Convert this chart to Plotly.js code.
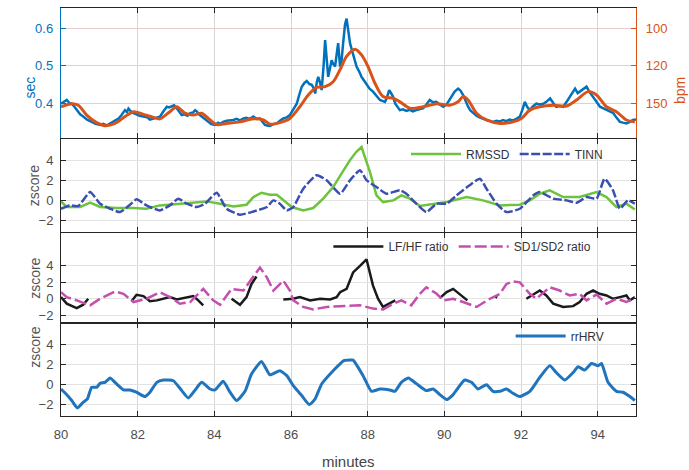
<!DOCTYPE html>
<html>
<head>
<meta charset="utf-8">
<script src="https://cdn.plot.ly/plotly-3.0.1.min.js"></script>
<style>html,body{margin:0;padding:0;background:#fff;}#chart{width:689px;height:470px;}</style>
</head>
<body>
<div id="chart"></div>
<script>
// ---------- DATA ----------
// Panel 1: RR interval (sec) and smoothed heart rate (plotted in sec units; right axis labelled in bpm)
const rrMin = [80.00,80.08,80.15,80.22,80.28,80.35,80.41,80.50,80.58,80.68,80.80,80.90,81.02,81.10,81.20,81.28,81.38,81.45,81.50,81.58,81.67,81.72,81.76,81.82,81.89,81.97,82.05,82.15,82.25,82.32,82.41,82.50,82.58,82.66,82.72,82.76,82.82,82.89,82.95,83.02,83.08,83.15,83.22,83.30,83.37,83.45,83.50,83.54,83.60,83.67,83.75,83.84,83.92,84.02,84.10,84.15,84.23,84.32,84.41,84.50,84.58,84.67,84.76,84.84,84.92,85.02,85.10,85.19,85.26,85.32,85.40,85.45,85.54,85.63,85.71,85.80,85.89,85.97,86.06,86.15,86.22,86.28,86.35,86.41,86.48,86.54,86.60,86.63,86.67,86.71,86.76,86.80,86.85,86.89,86.93,86.97,87.02,87.06,87.10,87.15,87.19,87.23,87.28,87.32,87.36,87.41,87.45,87.50,87.54,87.58,87.62,87.67,87.71,87.78,87.84,87.90,87.97,88.05,88.14,88.23,88.32,88.40,88.45,88.50,88.56,88.60,88.66,88.72,88.78,88.84,88.92,89.01,89.10,89.18,89.27,89.36,89.45,89.53,89.62,89.70,89.79,89.88,89.97,90.06,90.14,90.22,90.27,90.36,90.42,90.49,90.56,90.62,90.68,90.75,90.84,90.93,91.01,91.10,91.19,91.27,91.36,91.45,91.53,91.62,91.70,91.79,91.88,91.97,92.04,92.10,92.16,92.23,92.30,92.40,92.49,92.58,92.66,92.72,92.76,92.84,92.92,93.01,93.10,93.19,93.28,93.36,93.41,93.48,93.54,93.62,93.71,93.78,93.88,93.97,94.06,94.14,94.23,94.32,94.41,94.50,94.58,94.66,94.75,94.84,94.92,95.00];
const rrSec = [0.400,0.405,0.410,0.402,0.400,0.392,0.383,0.372,0.366,0.358,0.352,0.347,0.344,0.347,0.343,0.348,0.352,0.358,0.361,0.370,0.383,0.378,0.387,0.380,0.375,0.372,0.368,0.366,0.364,0.358,0.361,0.363,0.366,0.378,0.388,0.392,0.390,0.394,0.396,0.388,0.378,0.370,0.372,0.368,0.375,0.377,0.383,0.380,0.372,0.366,0.358,0.352,0.346,0.344,0.350,0.347,0.352,0.355,0.356,0.357,0.360,0.356,0.361,0.363,0.360,0.366,0.360,0.361,0.352,0.344,0.342,0.341,0.346,0.348,0.355,0.361,0.364,0.370,0.385,0.400,0.425,0.445,0.455,0.460,0.452,0.450,0.440,0.427,0.455,0.471,0.455,0.436,0.500,0.568,0.520,0.471,0.495,0.515,0.505,0.498,0.530,0.560,0.498,0.515,0.560,0.610,0.625,0.586,0.560,0.545,0.529,0.515,0.498,0.485,0.471,0.462,0.450,0.440,0.432,0.420,0.410,0.407,0.405,0.415,0.436,0.430,0.419,0.400,0.390,0.383,0.385,0.381,0.384,0.380,0.383,0.386,0.388,0.398,0.410,0.404,0.405,0.398,0.392,0.398,0.410,0.425,0.432,0.440,0.435,0.423,0.405,0.392,0.382,0.375,0.368,0.363,0.361,0.357,0.354,0.352,0.355,0.353,0.357,0.354,0.358,0.356,0.360,0.366,0.385,0.405,0.392,0.383,0.392,0.400,0.398,0.400,0.405,0.412,0.414,0.402,0.392,0.394,0.392,0.405,0.419,0.432,0.440,0.428,0.432,0.438,0.445,0.432,0.419,0.405,0.392,0.388,0.383,0.380,0.375,0.362,0.352,0.350,0.348,0.352,0.357,0.358];
const hrMin = [80.00,80.28,80.45,80.67,80.93,81.15,81.41,81.67,81.89,82.15,82.41,82.58,82.84,83.02,83.23,83.45,83.67,83.89,84.06,84.32,84.67,85.02,85.28,85.45,85.71,85.97,86.23,86.45,86.67,86.89,87.10,87.28,87.45,87.67,87.84,88.01,88.19,88.40,88.67,88.84,89.10,89.45,89.80,90.14,90.36,90.49,90.62,90.84,91.10,91.45,91.79,92.01,92.23,92.49,92.84,93.19,93.45,93.75,93.97,94.23,94.49,94.75,94.97];
const hrSec = [0.392,0.400,0.396,0.370,0.350,0.342,0.348,0.366,0.379,0.372,0.364,0.360,0.379,0.392,0.375,0.370,0.375,0.357,0.345,0.348,0.352,0.360,0.357,0.346,0.350,0.361,0.392,0.423,0.443,0.445,0.458,0.490,0.525,0.544,0.529,0.498,0.454,0.419,0.414,0.405,0.388,0.392,0.400,0.396,0.405,0.419,0.410,0.375,0.357,0.348,0.352,0.361,0.383,0.392,0.396,0.394,0.410,0.432,0.423,0.392,0.379,0.357,0.352];
const secTicks = [0.4, 0.5, 0.6];
const bpmTicks = [150, 120, 100];

// Panel 2: RMSSD and TINN (zscore)
const rmssdMin = [80.00,80.15,80.50,80.76,81.02,81.45,81.89,82.23,82.58,83.02,83.45,83.80,84.15,84.50,84.84,85.02,85.23,85.45,85.63,85.80,86.02,86.32,86.58,86.84,87.10,87.37,87.54,87.70,87.84,88.06,88.23,88.40,88.67,88.88,89.10,89.36,89.71,90.06,90.58,91.01,91.45,91.97,92.23,92.49,92.75,93.10,93.53,93.97,94.23,94.49,94.75,94.97];
const rmssdZ = [-0.1,-0.66,-0.66,-0.23,-0.66,-0.76,-0.76,-0.83,-0.5,-0.33,-0.17,-0.1,-0.33,-0.6,-0.43,0.33,0.76,0.56,0.56,0.0,-0.66,-1.0,-0.76,0.17,1.32,2.98,4.0,4.8,5.3,2.8,0.5,-0.17,0.0,0.5,0.17,-0.56,-0.33,-0.17,0.33,0.0,-0.5,-0.43,0.0,0.66,1.0,0.33,0.33,0.83,0.33,-0.66,-0.33,-0.9];
const tinnMin = [80.00,80.23,80.45,80.76,81.02,81.28,81.54,81.80,81.97,82.23,82.58,82.84,83.06,83.28,83.54,83.76,84.06,84.32,84.67,85.02,85.37,85.54,85.71,85.89,86.06,86.32,86.67,86.93,87.28,87.54,87.80,87.97,88.23,88.49,88.84,89.01,89.27,89.53,89.80,90.06,90.32,90.66,90.93,91.10,91.36,91.62,91.97,92.32,92.49,92.84,93.19,93.45,93.71,93.97,94.18,94.40,94.58,94.79,94.97];
const tinnZ = [-0.83,-0.5,-0.56,0.83,-0.33,-0.83,-1.16,-0.43,0.1,-0.5,-1.0,-0.5,0.17,-0.33,-0.66,-0.33,0.76,-0.83,-1.42,-1.1,-0.66,0.0,-0.33,-1.0,-0.66,1.16,2.5,2.0,0.66,2.0,3.0,2.0,1.32,0.66,1.0,0.66,-0.33,-1.16,-0.33,-0.33,0.5,1.5,2.15,1.16,-0.33,-1.16,-0.83,0.5,0.83,0.17,0.0,-0.23,0.33,0.17,2.15,1.0,-0.83,0.0,-0.33];

// Panel 3: LF/HF ratio (with gaps) and SD1/SD2 ratio (zscore)
const lfhfMin = [80.00,80.15,80.41,80.58,80.71,81.30,81.84,81.97,82.15,82.32,82.50,82.67,82.84,83.02,83.28,83.45,83.58,83.71,84.10,84.45,84.67,84.84,84.97,85.10,85.50,85.80,86.06,86.23,86.50,86.76,87.02,87.19,87.28,87.45,87.62,87.80,87.97,88.14,88.27,88.40,88.58,88.72,89.30,89.88,90.06,90.23,90.40,90.60,91.00,91.33,91.38,91.80,92.14,92.36,92.49,92.66,92.84,93.10,93.36,93.53,93.71,93.88,94.05,94.23,94.40,94.58,94.75,94.84,94.97];
const lfhfZ = [0.2,-0.6,-1.13,-0.73,0.0,null,-0.3,0.48,0.32,-0.3,-0.2,0.0,0.2,-0.08,0.2,0.32,-0.2,-0.8,null,0.0,-0.73,0.2,1.8,2.7,null,-0.08,0.0,0.2,-0.2,0.0,-0.08,0.2,0.8,1.2,3.2,4.0,4.8,1.6,0.0,-1.0,-0.6,-0.2,null,0.08,0.8,1.2,0.6,-0.2,null,0.25,0.15,null,0.0,0.6,1.0,0.4,-0.6,-1.0,-0.9,-0.4,0.6,1.0,0.6,0.4,0.0,0.2,0.4,-0.2,0.2];
const sdMin = [80.00,80.15,80.41,80.76,81.02,81.41,81.63,81.89,82.23,82.58,82.84,83.10,83.37,83.71,83.97,84.15,84.45,84.76,84.97,85.19,85.37,85.54,85.80,85.97,86.06,86.32,86.58,86.93,87.28,87.80,88.14,88.40,88.67,88.88,89.14,89.36,89.53,89.80,89.97,90.23,90.49,90.84,91.19,91.45,91.62,91.79,91.97,92.23,92.40,92.75,93.01,93.27,93.53,93.71,93.97,94.23,94.49,94.75,94.97];
const sdZ = [0.8,0.2,-0.2,-0.8,0.0,0.9,0.6,-0.4,0.0,0.8,0.2,-0.6,-0.4,1.2,-0.2,-0.73,1.2,1.0,2.4,3.8,2.6,1.0,2.2,1.0,-0.2,-1.0,-1.3,-1.0,-0.9,-0.8,-1.2,-1.3,-0.6,-0.2,-0.8,0.6,1.4,0.6,-0.2,0.0,-0.4,-1.0,0.0,0.6,1.8,2.1,2.0,0.6,0.0,1.4,1.0,0.4,0.6,-0.2,0.5,-0.6,0.0,-0.4,0.1];

// Panel 4: rrHRV (zscore)
const rrhrvMin = [80.00,80.15,80.28,80.43,80.58,80.69,80.80,80.93,81.02,81.15,81.28,81.45,81.63,81.80,81.97,82.19,82.32,82.50,82.67,82.93,83.15,83.32,83.50,83.67,83.89,84.02,84.23,84.41,84.58,84.80,84.97,85.23,85.45,85.71,85.89,86.06,86.28,86.48,86.63,86.80,87.10,87.37,87.54,87.62,87.88,88.10,88.32,88.58,88.71,88.88,89.06,89.27,89.53,89.71,89.88,90.06,90.23,90.53,90.71,90.88,91.10,91.27,91.45,91.62,91.79,91.97,92.23,92.49,92.75,92.92,93.14,93.36,93.49,93.66,93.84,94.01,94.10,94.27,94.49,94.66,94.84,94.97];
const rrhrvZ = [-0.43,-1.0,-1.57,-2.3,-1.74,-1.4,-0.26,-0.26,0.13,0.23,0.66,0.07,-0.52,-0.52,-0.75,-1.18,-0.75,0.23,0.46,0.39,-0.59,-1.31,-0.52,0.23,-0.43,-0.52,0.33,-0.75,-1.57,-0.66,1.05,2.3,0.98,1.38,0.89,-0.1,-1.08,-1.97,-1.4,0.07,1.38,2.36,2.43,2.43,0.89,-0.66,-0.43,-0.52,-0.66,0.23,0.66,0.1,-0.59,-0.43,-0.98,-1.48,-0.98,0.46,0.23,-0.43,0.0,-0.66,-0.66,-0.43,-0.85,-1.18,-0.66,0.72,1.87,1.2,0.46,1.2,1.77,1.44,2.1,1.87,2.1,0.23,-0.66,-0.75,-1.18,-1.57];

const xTicks = [80, 82, 84, 86, 88, 90, 92, 94];
const zTicks = [-2, 0, 2, 4];

// ---------- STYLE ----------
const FONT = 'Liberation Sans, Arial, sans-serif';
const BLUE = '#0072BD', ORANGE = '#D95319', AXC = '#262626', TXT = '#4d4d4d';
const GRID = '#e3e3e3';

function xax(showLabels, anchor) {
  return {
    range: [80, 95], tickvals: xTicks, ticks: 'inside', ticklen: 5, tickcolor: AXC,
    showline: true, linecolor: AXC, linewidth: 1, mirror: 'ticks',
    showgrid: true, gridcolor: '#d6d6d6', zeroline: false, anchor: anchor,
    showticklabels: showLabels, tickfont: {family: FONT, size: 13, color: TXT},
    ticklabelstandoff: 6
  };
}
function zax(domain, range, anchor) {
  return {
    domain: domain, range: range, tickvals: zTicks, ticks: 'inside', ticklen: 5, tickcolor: AXC,
    showline: true, linecolor: AXC, linewidth: 1, mirror: 'ticks',
    showgrid: true, gridcolor: GRID, zeroline: false, anchor: anchor,
    tickfont: {family: FONT, size: 13, color: TXT}, ticklabelstandoff: 4
  };
}

const traces = [
  {x: rrMin, y: rrSec, xaxis: 'x', yaxis: 'y', mode: 'lines', line: {color: BLUE, width: 2.5}, showlegend: false, name: 'RR'},
  {x: hrMin, y: hrSec, xaxis: 'x', yaxis: 'y5', mode: 'lines', line: {color: ORANGE, width: 3, shape: 'spline', smoothing: 0.8}, showlegend: false, name: 'HR'},
  {x: rmssdMin, y: rmssdZ, xaxis: 'x2', yaxis: 'y2', mode: 'lines', name: 'RMSSD', line: {color: '#6cc43c', width: 2.5}, legend: 'legend'},
  {x: tinnMin, y: tinnZ, xaxis: 'x2', yaxis: 'y2', mode: 'lines', name: 'TINN', line: {color: '#3a4fb0', width: 2.5, dash: '9px,2.5px', shape: 'spline', smoothing: 0.5}, legend: 'legend'},
  {x: lfhfMin, y: lfhfZ, xaxis: 'x3', yaxis: 'y3', mode: 'lines', name: 'LF/HF ratio', line: {color: '#1a1a1a', width: 2.5}, connectgaps: false, legend: 'legend2'},
  {x: sdMin, y: sdZ, xaxis: 'x3', yaxis: 'y3', mode: 'lines', name: 'SD1/SD2 ratio', line: {color: '#c44fae', width: 2.5, dash: '12px,4px'}, legend: 'legend2'},
  {x: rrhrvMin, y: rrhrvZ, xaxis: 'x4', yaxis: 'y4', mode: 'lines', name: 'rrHRV', line: {color: '#1f74bd', width: 3, shape: 'spline', smoothing: 0.5}, legend: 'legend3'}
];

const legBase = {orientation: 'h', xanchor: 'left', yanchor: 'middle', bgcolor: 'rgba(0,0,0,0)',
  font: {family: FONT, size: 12, color: '#333'}, itemwidth: 50, borderwidth: 0, tracegroupgap: 0};

const layout = {
  width: 689, height: 470,
  margin: {l: 61, r: 53, t: 8, b: 54},
  paper_bgcolor: '#fff', plot_bgcolor: '#fff',
  font: {family: FONT, color: TXT},
  xaxis: Object.assign(xax(false, 'y'), {}),
  xaxis2: Object.assign(xax(false, 'y2'), {matches: 'x'}),
  xaxis3: Object.assign(xax(false, 'y3'), {matches: 'x'}),
  xaxis4: Object.assign(xax(true, 'y4'), {matches: 'x'}),
  yaxis: {
    domain: [0.681, 1], range: [0.309, 0.653], tickvals: secTicks, ticktext: secTicks.map(v => v.toFixed(1)),
    ticks: 'inside', ticklen: 5, tickcolor: BLUE, showline: true, linecolor: BLUE, linewidth: 1.2,
    showgrid: false, zeroline: false, anchor: 'x', tickfont: {family: FONT, size: 13, color: BLUE}, ticklabelstandoff: 4
  },
  yaxis5: {
    overlaying: 'y', side: 'right', anchor: 'x', range: [0.309, 0.653],
    tickvals: bpmTicks.map(b => 60 / b), ticktext: bpmTicks.map(String),
    ticks: 'inside', ticklen: 5, tickcolor: ORANGE, showline: true, linecolor: ORANGE, linewidth: 1.2,
    showgrid: true, gridcolor: '#e6cccc', zeroline: false, tickfont: {family: FONT, size: 13, color: ORANGE}, ticklabelstandoff: 6
  },
  yaxis2: zax([0.452, 0.679], [-3.1, 6.1], 'x2'),
  yaxis3: zax([0.228, 0.4485], [-2.95, 8.0], 'x3'),
  yaxis4: zax([0, 0.228], [-3.1, 6.1], 'x4'),
  legend: Object.assign({}, legBase, {x: 0.6, y: 0.642}),
  legend2: Object.assign({}, legBase, {x: 0.465, y: 0.4155}),
  legend3: Object.assign({}, legBase, {x: 0.782, y: 0.196}),
  annotations: [
    {text: 'sec', xref: 'paper', yref: 'paper', x: -0.072, y: 0.836, textangle: -90, showarrow: false, font: {family: FONT, size: 14, color: BLUE}},
    {text: 'bpm', xref: 'paper', yref: 'paper', x: 1.095, y: 0.836, textangle: -90, showarrow: false, font: {family: FONT, size: 14, color: ORANGE}},
    {text: 'zscore', xref: 'paper', yref: 'paper', x: -0.063, y: 0.565, textangle: -90, showarrow: false, font: {family: FONT, size: 14, color: '#555'}},
    {text: 'zscore', xref: 'paper', yref: 'paper', x: -0.063, y: 0.338, textangle: -90, showarrow: false, font: {family: FONT, size: 14, color: '#555'}},
    {text: 'zscore', xref: 'paper', yref: 'paper', x: -0.063, y: 0.114, textangle: -90, showarrow: false, font: {family: FONT, size: 14, color: '#555'}},
    {text: 'minutes', xref: 'paper', yref: 'paper', x: 0.5, y: -0.112, yanchor: 'middle', showarrow: false, font: {family: FONT, size: 15, color: '#444'}}
  ]
};

Plotly.newPlot('chart', traces, layout, {displayModeBar: false, staticPlot: true});
</script>
</body>
</html>
